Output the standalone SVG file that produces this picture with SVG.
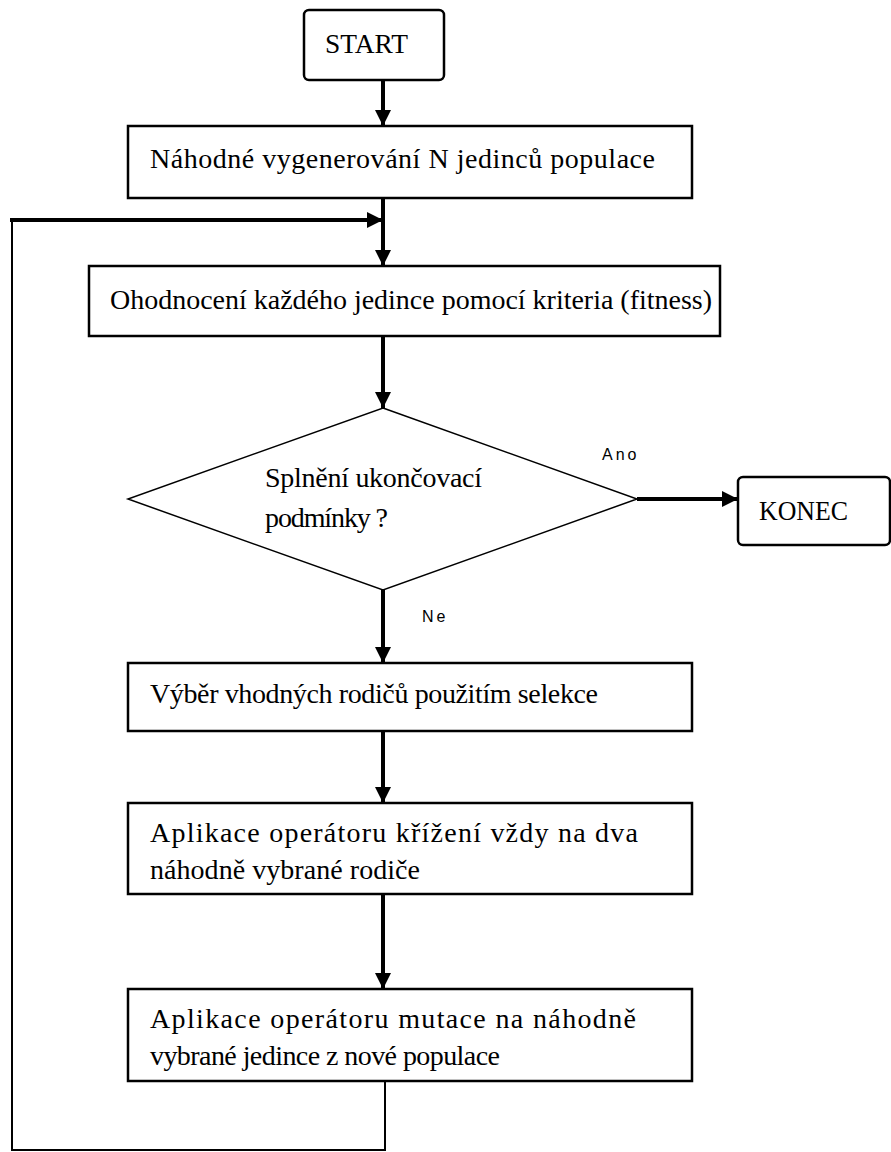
<svg xmlns="http://www.w3.org/2000/svg" width="891" height="1152" viewBox="0 0 891 1152">
  <style>
    .box { fill: #ffffff; stroke: #000000; stroke-width: 2.5; }
    .dec { fill: #ffffff; stroke: #000000; stroke-width: 1.5; }
    .lbl { font-family: "Liberation Serif", "Times New Roman", serif; font-size: 28px; fill: #000000; }
    .small { font-family: "Liberation Sans", Arial, sans-serif; font-size: 16px; fill: #000000; letter-spacing: 3px; }
    .flow { fill: none; stroke: #000000; stroke-width: 4; }
    .back { fill: none; stroke: #000000; stroke-width: 2; }
  </style>
  <defs>
    <marker id="head" viewBox="0 0 16 16" refX="16" refY="8" markerWidth="16" markerHeight="16" markerUnits="userSpaceOnUse" orient="auto">
      <path d="M0,0 L16,8 L0,16 z" fill="#000000"/>
    </marker>
  </defs>

  <rect width="891" height="1152" fill="#ffffff"/>

  <!-- connectors -->
  <g id="connectors">
    <line class="flow" x1="383" y1="80" x2="383" y2="126" marker-end="url(#head)"/>
    <line class="flow" x1="383" y1="198" x2="383" y2="266" marker-end="url(#head)"/>
    <line class="flow" x1="10" y1="220" x2="383" y2="220" marker-end="url(#head)"/>
    <line class="flow" x1="383" y1="336" x2="383" y2="408" marker-end="url(#head)"/>
    <line class="flow" x1="637" y1="499" x2="738" y2="499" marker-end="url(#head)"/>
    <line class="flow" x1="383" y1="590" x2="383" y2="663" marker-end="url(#head)"/>
    <line class="flow" x1="383" y1="731" x2="383" y2="803" marker-end="url(#head)"/>
    <line class="flow" x1="383" y1="894" x2="383" y2="989" marker-end="url(#head)"/>
    <!-- return path of the loop -->
    <polyline class="back" points="385,1081 385,1150 12,1150 12,220"/>
    <text class="small" x="602" y="460">Ano</text>
    <text class="small" x="422" y="622">Ne</text>
  </g>

  <g id="start">
    <rect class="box" x="304" y="10" width="140" height="70" rx="5"/>
    <text class="lbl" x="325" y="53" textLength="83" lengthAdjust="spacingAndGlyphs">START</text>
  </g>

  <g id="init">
    <rect class="box" x="128" y="126" width="564" height="72"/>
    <text class="lbl" x="150" y="168" textLength="505" lengthAdjust="spacing">Náhodné vygenerování N jedinců populace</text>
  </g>

  <g id="evaluate">
    <rect class="box" x="89" y="266" width="631" height="70"/>
    <text class="lbl" x="110" y="309" textLength="602" lengthAdjust="spacing">Ohodnocení každého jedince pomocí kriteria (fitness)</text>
  </g>

  <g id="condition">
    <polygon class="dec" points="383,408 637,499 383,590 128,499"/>
    <text class="lbl" x="265" y="487" textLength="217" lengthAdjust="spacing">Splnění ukončovací</text>
    <text class="lbl" x="265" y="527" textLength="123" lengthAdjust="spacing">podmínky ?</text>
  </g>

  <g id="end">
    <rect class="box" x="738" y="477" width="152" height="68" rx="5"/>
    <text class="lbl" x="759" y="520" textLength="89" lengthAdjust="spacingAndGlyphs">KONEC</text>
  </g>

  <g id="selection">
    <rect class="box" x="128" y="663" width="564" height="68"/>
    <text class="lbl" x="150" y="703" textLength="448" lengthAdjust="spacing">Výběr vhodných rodičů použitím selekce</text>
  </g>

  <g id="crossover">
    <rect class="box" x="128" y="803" width="564" height="91"/>
    <text class="lbl" x="150" y="842" textLength="488" lengthAdjust="spacing">Aplikace operátoru křížení vždy na dva</text>
    <text class="lbl" x="150" y="879" textLength="270" lengthAdjust="spacing">náhodně vybrané rodiče</text>
  </g>

  <g id="mutation">
    <rect class="box" x="128" y="989" width="564" height="92"/>
    <text class="lbl" x="150" y="1028" textLength="486" lengthAdjust="spacing">Aplikace operátoru mutace na náhodně</text>
    <text class="lbl" x="150" y="1065" textLength="350" lengthAdjust="spacing">vybrané jedince z nové populace</text>
  </g>
</svg>
